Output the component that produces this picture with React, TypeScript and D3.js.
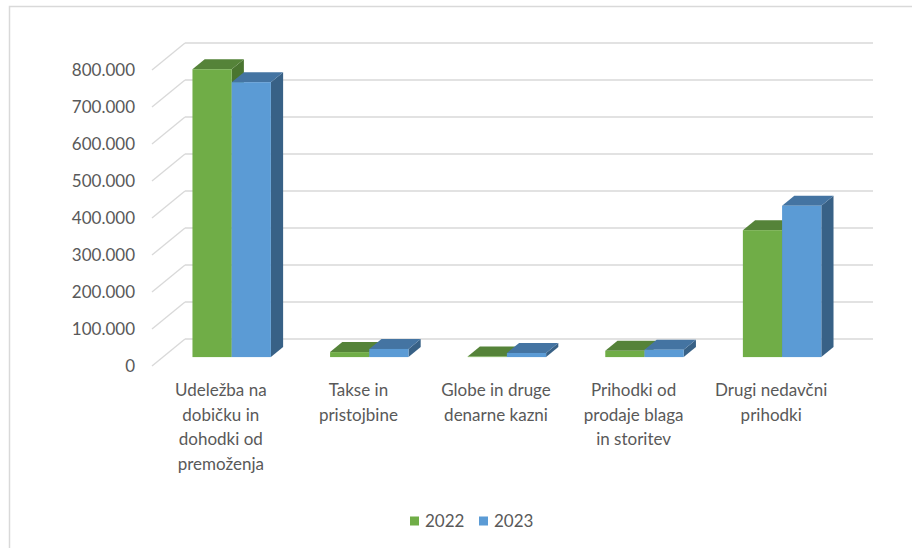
import React, { useEffect, useRef } from "react";
import * as d3 from "d3";

// Chart data
const categories = [
  "Udeležba na dobičku in dohodki od premoženja",
  "Takse in pristojbine",
  "Globe in druge denarne kazni",
  "Prihodki od prodaje blaga in storitev",
  "Drugi nedavčni prihodki",
];
const categoryLines = [
  ["Udeležba na", "dobičku in", "dohodki od", "premoženja"],
  ["Takse in", "pristojbine"],
  ["Globe in druge", "denarne kazni"],
  ["Prihodki od", "prodaje blaga", "in storitev"],
  ["Drugi nedavčni", "prihodki"],
];
const seriesNames = ["2022", "2023"];
const values2022 = [778000, 13500, 1500, 17000, 343000];
const values2023 = [743000, 22000, 11000, 20000, 409000];
const yTicks = [0, 100000, 200000, 300000, 400000, 500000, 600000, 700000, 800000];

const App = () => {
  const svgRef = useRef<SVGSVGElement | null>(null);

  useEffect(() => {
    const W = 912;
    const H = 548;
    const svg = d3.select(svgRef.current);
    svg.selectAll("*").remove();
    svg.attr("width", W).attr("height", H);

    const font = "Lato, 'Open Sans', sans-serif";
    const textColor = "#595959";
    const gridColor = "#d9d9d9";

    // chart border (right and bottom fall outside the picture)
    svg
      .append("rect")
      .attr("x", 9.5)
      .attr("y", 6.5)
      .attr("width", 1000)
      .attr("height", 1000)
      .attr("fill", "#fff")
      .attr("stroke", gridColor)
      .attr("stroke-width", 1.5);

    // oblique depth vector of the floor
    const depth = { dx: 33, dy: -27 };
    const front = { left: 152, right: 840 };

    const y = d3.scaleLinear().domain([0, 800000]).range([366, 70]);

    const x0 = d3
      .scaleBand<string>()
      .domain(categories)
      .range([front.left, front.right])
      .paddingInner(0.43)
      .paddingOuter(0.215);

    const x1 = d3
      .scaleBand<string>()
      .domain(seriesNames)
      .range([0, x0.bandwidth()]);

    // gridlines: back wall + left side wall
    const grid = svg.append("g");
    yTicks.forEach((t) => {
      const yf = y(t);
      const yb = yf + depth.dy;
      grid
        .append("line")
        .attr("x1", front.left + depth.dx)
        .attr("x2", front.right + depth.dx)
        .attr("y1", yb)
        .attr("y2", yb)
        .attr("stroke", gridColor)
        .attr("stroke-width", 1.3);
      grid
        .append("line")
        .attr("x1", front.left)
        .attr("y1", yf)
        .attr("x2", front.left + depth.dx)
        .attr("y2", yb)
        .attr("stroke", gridColor)
        .attr("stroke-width", 1.3);
    });

    // y axis labels
    svg
      .append("g")
      .selectAll("text")
      .data(yTicks)
      .enter()
      .append("text")
      .attr("x", 135)
      .attr("y", (d) => y(d))
      .attr("dy", "0.35em")
      .attr("text-anchor", "end")
      .style("font-family", font)
      .style("font-size", "17px")
      .attr("fill", textColor)
      .text((d) => (d === 0 ? "0" : d3.format(",")(d).replace(/,/g, ".")));

    // bars
    const f0 = 0.33;
    const f1 = 0.7;
    const bdx = (f1 - f0) * depth.dx;
    const bdy = (f1 - f0) * depth.dy;

    const seriesConfig = [
      { name: "2022", values: values2022, front: "#70ad47", top: "#558339", side: "#4a7530" },
      { name: "2023", values: values2023, front: "#5b9bd5", top: "#4474a2", side: "#386186" },
    ];

    const bars = svg.append("g");
    categories.forEach((c, i) => {
      seriesConfig.forEach((s) => {
        const w = x1.bandwidth();
        const xf = (x0(c) ?? 0) + (x1(s.name) ?? 0) + f0 * depth.dx;
        const yt = y(s.values[i]) + f0 * depth.dy;
        const yb = y(0) + f0 * depth.dy;
        const pts = (arr: [number, number][]) => arr.map((p) => p.join(",")).join(" ");

        bars
          .append("polygon")
          .attr(
            "points",
            pts([
              [xf + w, yt],
              [xf + w + bdx, yt + bdy],
              [xf + w + bdx, yb + bdy],
              [xf + w, yb],
            ])
          )
          .attr("fill", s.side);
        bars
          .append("polygon")
          .attr(
            "points",
            pts([
              [xf, yt],
              [xf + w, yt],
              [xf + w + bdx, yt + bdy],
              [xf + bdx, yt + bdy],
            ])
          )
          .attr("fill", s.top);
        bars
          .append("rect")
          .attr("x", xf)
          .attr("y", yt)
          .attr("width", w)
          .attr("height", Math.max(0, yb - yt))
          .attr("fill", s.front);
      });
    });

    // category labels
    const labels = svg.append("g");
    categories.forEach((c, i) => {
      const cx = (x0(c) ?? 0) + x0.bandwidth() / 2;
      categoryLines[i].forEach((line, j) => {
        labels
          .append("text")
          .attr("x", cx)
          .attr("y", 390 + j * 24.7)
          .attr("dy", "0.35em")
          .attr("text-anchor", "middle")
          .style("font-family", font)
          .style("font-size", "17px")
          .attr("fill", textColor)
          .text(line);
      });
    });

    // legend
    const legend = svg.append("g").attr("transform", "translate(410, 521)");
    seriesConfig.forEach((s, i) => {
      const g = legend.append("g").attr("transform", `translate(${i * 69}, 0)`);
      g.append("rect")
        .attr("x", 0)
        .attr("y", -4.5)
        .attr("width", 9)
        .attr("height", 9)
        .attr("fill", s.front);
      g.append("text")
        .attr("x", 15)
        .attr("y", 0)
        .attr("dy", "0.35em")
        .style("font-family", font)
        .style("font-size", "17px")
        .attr("fill", textColor)
        .text(s.name);
    });
  }, []);

  return (
    <div style={{ position: "absolute", left: 0, top: 0 }}>
      <svg ref={svgRef} style={{ display: "block", overflow: "hidden" }}></svg>
    </div>
  );
};

export default App;
